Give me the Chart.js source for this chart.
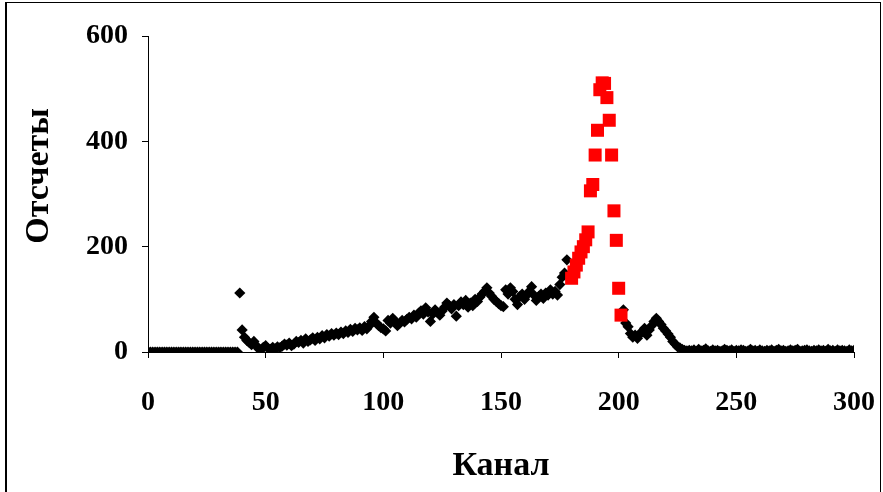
<!DOCTYPE html>
<html>
<head>
<meta charset="utf-8">
<script src="https://cdn.jsdelivr.net/npm/chart.js@4/dist/chart.umd.min.js"></script>
<style>
  html, body { margin: 0; padding: 0; background: #fff; overflow: hidden; }
  #wrap { position: relative; width: 883px; height: 492px; overflow: hidden; }
  #frame { position: absolute; left: 5px; top: 2px; width: 873px; height: 500px;
           border: 1px solid #000; border-left-width: 2px; border-bottom: none; pointer-events: none; }
</style>
</head>
<body>
<div id="wrap">
  <canvas id="chartCanvas" width="883" height="492"></canvas>
  <div id="frame"></div>
</div>
<script>
// Axis titles and ticks
const xTitle = 'Канал';
const yTitle = 'Отсчеты';
const xTicks = [0, 50, 100, 150, 200, 250, 300];
const yTicks = [0, 200, 400, 600];

// Counts per channel, channel 0 .. 300 (black diamonds)
const allCounts = [
  0, 0, 0, 0, 0, 0, 0, 0, 0, 0,
  0, 0, 0, 0, 0, 0, 0, 0, 0, 0,
  0, 0, 0, 0, 0, 0, 0, 0, 0, 0,
  0, 0, 0, 0, 0, 0, 0, 0, 0, 112,
  42, 28, 22, 18, 14, 20, 12, 6, 4, 9,
  12, 7, 5, 9, 6, 10, 8, 11, 15, 13,
  17, 12, 15, 20, 18, 22, 17, 25, 20, 23,
  27, 22, 28, 25, 31, 27, 33, 30, 35, 32,
  36, 33, 38, 35, 40, 37, 43, 39, 45, 42,
  46, 41, 48, 44, 50, 58, 66, 55, 50, 46,
  44, 40, 60, 55, 64, 58, 50, 55, 60, 57,
  62, 66, 63, 70, 66, 74, 78, 72, 84, 76,
  58, 72, 80, 75, 70, 78, 85, 93, 88, 82,
  90, 68, 88, 95, 90, 98, 85, 93, 88, 100,
  96, 104, 110, 115, 122, 112, 106, 100, 96, 92,
  88, 86, 118, 110, 122, 115, 100, 90, 105, 110,
  100, 108, 115, 124, 108, 98, 105, 110, 102, 112,
  108, 118, 110, 115, 108, 128, 142, 150, 175, 145,
  140, 152, 165, 178, 190, 200, 213, 228, 306, 318,
  374, 421, 498, 511, 510, 483, 440, 374, 268, 212,
  121, 70, 80, 55, 48, 35, 28, 32, 26, 35,
  38, 45, 32, 42, 50, 58, 64, 58, 52, 45,
  40, 34, 28, 20, 15, 10, 8, 5, 3, 2,
  3, 2, 4, 1, 5, 2, 3, 6, 2, 1,
  4, 2, 3, 1, 2, 5, 3, 2, 4, 1,
  3, 2, 4, 3, 1, 2, 5, 2, 3, 1,
  4, 2, 1, 3, 2, 4, 1, 3, 5, 2,
  3, 1, 2, 4, 2, 3, 5, 1, 2, 3,
  4, 2, 1, 3, 2, 4, 2, 3, 1, 5,
  2, 3, 1, 4, 2, 3, 2, 1, 4, 2,
  3
];

// Peak region (red squares)
const peakChannels = [180, 181, 182, 183, 184, 185, 186, 187, 188, 189, 190,
                      191, 192, 193, 194, 195, 196, 197, 198, 199, 200, 201];
const peakCounts = [140, 152, 165, 178, 190, 200, 213, 228, 306, 318, 374,
                    421, 498, 511, 510, 483, 440, 374, 268, 212, 121, 70];

const serif = "'Liberation Serif', 'Times New Roman', serif";

const allPoints = allCounts.map((v, i) => ({ x: i, y: v }));
const peakPoints = peakChannels.map((c, i) => ({ x: c, y: peakCounts[i] }));

// y title drawn by hand so it can sit a bit above the middle, like the original
const yTitlePlugin = {
  id: 'yTitle',
  afterDraw(chart) {
    const ctx = chart.ctx;
    ctx.save();
    ctx.font = 'bold 34px ' + serif;
    ctx.fillStyle = '#000';
    ctx.textAlign = 'center';
    ctx.textBaseline = 'alphabetic';
    ctx.translate(48, 176);
    ctx.rotate(-Math.PI / 2);
    ctx.fillText(yTitle, 0, 0);
    ctx.restore();
  }
};

const chartCanvas = document.getElementById('chartCanvas');
const myChart = new Chart(chartCanvas, {
  type: 'scatter',
  data: {
    datasets: [
      {
        label: 'peak',
        data: peakPoints,
        pointStyle: 'rect',
        pointRadius: 9.2,
        backgroundColor: '#ff0000',
        borderWidth: 0
      },
      {
        label: 'spectrum',
        data: allPoints,
        pointStyle: 'rectRot',
        pointRadius: 5.6,
        backgroundColor: '#000000',
        borderWidth: 0
      }
    ]
  },
  options: {
    responsive: false,
    animation: false,
    layout: { padding: { left: 0, right: 29, top: 36, bottom: 0 } },
    plugins: {
      legend: { display: false },
      tooltip: { enabled: false }
    },
    scales: {
      x: {
        type: 'linear',
        min: 0,
        max: 300,
        afterBuildTicks: s => { s.ticks = xTicks.map(v => ({ value: v })); },
        afterFit: s => {
          s.height = 140;
          // don't let the end labels push the plot area in
          s.paddingLeft = 0;
          s.paddingRight = 0;
        },
        grid: { drawOnChartArea: false, tickLength: 6, color: '#000' },
        border: { color: '#000', width: 1 },
        ticks: {
          padding: 28,
          color: '#000',
          maxRotation: 0,
          font: { family: serif, size: 28, weight: 'bold' }
        },
        title: {
          display: true,
          text: xTitle,
          color: '#000',
          padding: { top: 0, bottom: 5 },
          font: { family: serif, size: 34, weight: 'bold' }
        }
      },
      y: {
        type: 'linear',
        min: 0,
        max: 600,
        afterBuildTicks: s => { s.ticks = yTicks.map(v => ({ value: v })); },
        afterFit: s => {
          s.width = 148;
          s.paddingTop = 0;
          s.paddingBottom = 0;
        },
        grid: { drawOnChartArea: false, tickLength: 6, color: '#000' },
        border: { color: '#000', width: 1 },
        ticks: {
          padding: 14,
          color: '#000',
          font: { family: serif, size: 28, weight: 'bold' }
        }
      }
    }
  },
  plugins: [yTitlePlugin]
});
</script>
</body>
</html>
